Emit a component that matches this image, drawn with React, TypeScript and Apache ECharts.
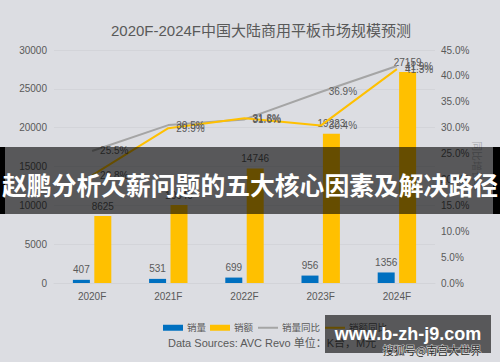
import React, { useEffect, useRef } from "react";
import * as echarts from "echarts";

const categories = ["2020F", "2021F", "2022F", "2023F", "2024F"];
const volume = [407, 531, 699, 956, 1356];
const amount = [8625, 10040, 14746, 19223, 27159];
const volumeYoY = [25.5, 30.5, 31.6, 36.9, 41.9];
const amountYoY = [20.8, 29.9, 31.8, 30.4, 41.3];
const leftTicks = { min: 0, max: 30000, interval: 5000 };
const rightTicks = { min: 0, max: 45, interval: 5 };
const rightAxisName = "同比增长率";

const TXT = "#595959";
const FONT = "'Liberation Sans', Arial, 'Noto Sans CJK SC', sans-serif";

export default function App() {
  const ref = useRef<HTMLDivElement>(null);
  useEffect(() => {
    document.body.style.margin = "0";
    const chart = echarts.init(ref.current!, null, { renderer: "svg" });
    const lineLabel = {
      show: true,
      position: "right",
      distance: 8,
      color: TXT,
      fontSize: 10,
      formatter: (p: any) => p.value.toFixed(1) + "%",
    };
    chart.setOption({
      animation: false,
      backgroundColor: "#dcdde2",
      textStyle: { fontFamily: FONT },
      title: {
        text: "2020F-2024F中国大陆商用平板市场规模预测",
        left: 256,
        textAlign: "center",
        top: 18,
        textStyle: { fontSize: 15, fontWeight: "normal", color: TXT, fontFamily: FONT },
      },
      grid: { left: 54, right: 65, top: 50, bottom: 79, containLabel: false },
      legend: {
        left: 158,
        top: 318,
        itemWidth: 20,
        itemHeight: 6,
        itemGap: 4,
        textStyle: { fontSize: 9.5, color: TXT, padding: [0, 0, 0, -1] },
        data: [
          { name: "销量", icon: "rect" },
          { name: "销额", icon: "rect" },
          { name: "销量同比", itemStyle: { opacity: 0 } },
          { name: "销额同比", itemStyle: { opacity: 0 } },
        ],
      },
      xAxis: {
        type: "category",
        data: categories,
        axisTick: { show: false },
        axisLine: { lineStyle: { color: "#d2d3d8" } },
        axisLabel: { color: TXT, fontSize: 10, margin: 8 },
      },
      yAxis: [
        {
          type: "value",
          ...leftTicks,
          axisLabel: { color: TXT, fontSize: 10, margin: 7, formatter: (v: number) => String(v) },
          splitLine: { lineStyle: { color: "#d3d4d9" } },
          axisLine: { show: false },
          axisTick: { show: false },
        },
        {
          type: "value",
          ...rightTicks,
          position: "right",
          axisLabel: {
            color: TXT,
            fontSize: 10,
            margin: 6,
            formatter: (v: number) => v.toFixed(1) + "%",
          },
          splitLine: { show: false },
          axisLine: { show: false },
          axisTick: { show: false },
        },
      ],
      series: [
        {
          name: "销量",
          type: "bar",
          data: volume,
          barWidth: 17,
          barGap: "26%",
          itemStyle: { color: "#0070c0" },
          label: { show: true, position: "top", color: TXT, fontSize: 10 },
        },
        {
          name: "销额",
          type: "bar",
          data: amount,
          barWidth: 17,
          barGap: "26%",
          itemStyle: { color: "#ffc000" },
          label: { show: true, position: "top", color: TXT, fontSize: 10 },
        },
        {
          name: "销量同比",
          type: "line",
          yAxisIndex: 1,
          data: volumeYoY,
          symbol: "circle",
          symbolSize: 0,
          showSymbol: true,
          lineStyle: { color: "#a5a5a5", width: 2 },
          itemStyle: { color: "#a5a5a5" },
          label: lineLabel,
        },
        {
          name: "销额同比",
          type: "line",
          yAxisIndex: 1,
          data: amountYoY,
          symbol: "circle",
          symbolSize: 0,
          showSymbol: true,
          lineStyle: { color: "#ffc000", width: 2 },
          itemStyle: { color: "#ffc000" },
          label: lineLabel,
        },
      ],
      graphic: [
        {
          type: "text",
          x: 477,
          y: 166,
          rotation: -Math.PI / 2,
          style: {
            text: rightAxisName,
            fill: "#a8a9ae",
            fontSize: 10,
            fontFamily: "'Noto Sans CJK SC', sans-serif",
            align: "center",
            verticalAlign: "middle",
          },
        },
        {
          type: "text",
          left: 168,
          top: 337,
          style: {
            text: "Data Sources: AVC Revo 单位：K台，M元",
            fill: TXT,
            fontSize: 11,
            fontFamily: FONT,
          },
        },
        {
          type: "rect",
          z: 100,
          shape: { x: 0, y: 147, width: 500, height: 67 },
          style: { fill: "rgba(0,0,0,0.6)" },
        },
        {
          type: "rect",
          z: 101,
          shape: { x: 0, y: 147, width: 5, height: 67 },
          style: { fill: "#000" },
        },
        {
          type: "rect",
          z: 101,
          shape: { x: 493, y: 147, width: 7, height: 67 },
          style: { fill: "#000" },
        },
        {
          type: "text",
          z: 102,
          x: 250,
          y: 184,
          style: {
            text: "赵鹏分析欠薪问题的五大核心因素及解决路径",
            fill: "#fff",
            fontSize: 24.8,
            fontWeight: "bold",
            fontFamily: "'Noto Sans CJK SC', sans-serif",
            align: "center",
            verticalAlign: "middle",
          },
        },
        {
          type: "rect",
          z: 100,
          shape: { x: 325, y: 315, width: 166, height: 38 },
          style: { fill: "rgba(0,0,0,0.6)" },
        },
        {
          type: "text",
          z: 102,
          x: 408,
          y: 334,
          style: {
            text: "www.b-zh-j9.com",
            fill: "#fff",
            fontSize: 18,
            fontWeight: "bold",
            fontFamily: "'Liberation Sans', Arial, sans-serif",
            align: "center",
            verticalAlign: "middle",
          },
        },
        {
          type: "text",
          z: 103,
          x: 432,
          y: 350,
          style: {
            text: "搜狐号@南宫大世界",
            fill: "#2a2a2a",
            stroke: "#e0e0e0",
            lineWidth: 1,
            fontSize: 11,
            fontFamily: "'Noto Sans CJK SC', sans-serif",
            align: "center",
            verticalAlign: "middle",
          },
        },
      ],
    });
    return () => chart.dispose();
  }, []);
  return <div ref={ref} style={{ width: 500, height: 362 }} />;
}
